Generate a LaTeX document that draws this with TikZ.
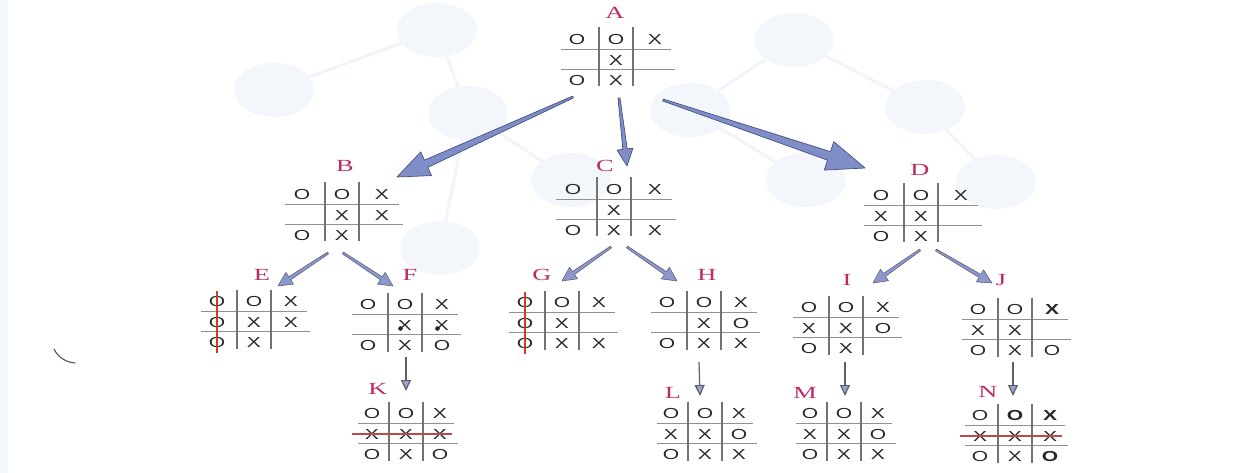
\documentclass[tikz,border=0pt]{standalone}
\usepackage{fontspec}
\usetikzlibrary{calc,arrows.meta}
\newfontfamily\labelfont[FakeStretch=1.55]{Liberation Serif}
\newfontfamily\markfont[FakeStretch=1.45]{Liberation Sans}
\definecolor{lblred}{RGB}{188,42,98}
\definecolor{markgray}{RGB}{40,40,40}
\definecolor{gridv}{RGB}{115,115,105}
\definecolor{gridh}{RGB}{145,145,145}
\definecolor{arrowfill}{RGB}{128,142,200}
\definecolor{arrowedge}{RGB}{70,80,130}
\definecolor{smallfill}{RGB}{140,152,205}
\definecolor{smalledge}{RGB}{95,100,125}
\definecolor{headblue}{RGB}{150,165,215}
\definecolor{strikered}{RGB}{205,60,35}
\definecolor{strikerose}{RGB}{185,75,70}
\definecolor{wmfill}{RGB}{243,247,252}
\definecolor{wmline}{RGB}{241,245,251}

\tikzset{
  lbl/.style={font=\labelfont\fontsize{17}{17}\selectfont, text=lblred,
    inner sep=0pt, text height=11.2pt, text depth=0pt},
  xo/.style={font=\markfont\fontsize{14.5}{14.5}\selectfont, text=markgray,
    inner sep=0pt, text height=10.4pt, text depth=0pt},
  hline/.style={draw=gridh, line width=1.1pt},
  vline/.style={draw=gridv, line width=1.3pt},
  bigarrow/.style={fill=arrowfill, draw=arrowedge, line width=0.7pt, line join=round},
  smallarrow/.style={fill=smallfill, draw=smalledge, line width=0.6pt, line join=round},
  varrow/.style={draw=gray!75!black, line width=1.2pt,
    -{Triangle[length=11pt,width=10pt,fill=headblue]}},
  vstrike/.style={draw=strikered, line width=1.8pt},
  hstrike/.style={draw=strikerose, line width=1.8pt},
  wm/.style={fill=wmfill, draw=none},
  wmlink/.style={draw=wmline, line width=3pt},
}

% tapered arrow: [style]{start}{tip}{half width at start}{half width at head}{head length}{head half width}
\newcommand\tarrow[7][bigarrow]{%
  \path ($(#3)!#6!(#2)$) coordinate (tb);
  \filldraw[#1]
    ($(#2)!#4!90:(#3)$) -- ($(tb)!#5!-90:(#2)$) -- ($(tb)!#7!-90:(#2)$) -- (#3)
    -- ($(tb)!#7!90:(#2)$) -- ($(tb)!#5!90:(#2)$) -- ($(#2)!#4!-90:(#3)$) -- cycle;
}

% board: name, centre x, centre y, column step, nine marks row by row
\newcommand\board[5]{%
  \coordinate (#1) at (#2,#3);
  \foreach \s [count=\i from 0] in {#5} {
    \pgfmathsetmacro\px{#2+(mod(\i,3)-1)*#4}
    \pgfmathsetmacro\py{#3+(div(\i,3)-1)*20.5}
    \node[xo] (#1-\i) at (\px,\py) {\s};
  }
  \draw[hline] (#2-1.42*#4,#3-10.5) -- (#2+1.42*#4,#3-10.5);
  \draw[hline] (#2-1.42*#4,#3+9.5) -- (#2+1.52*#4,#3+9.5);
  \draw[vline] (#2-17,#3-32.5) -- (#2-17,#3+26.5);
  \draw[vline] (#2+17,#3-32.5) -- (#2+17,#3+26.5);
}
\newcommand\bO{{\bfseries O}}
\newcommand\bX{{\bfseries X}}

\begin{document}
\begin{tikzpicture}[x=1pt,y=-1pt]
\useasboundingbox (0,0) rectangle (1245,473);
\fill[white] (0,0) rectangle (1245,473);
\fill[wmfill] (0,0) rectangle (8,473);

% faint network printed behind the tree
\draw[wmlink] (437,30) -- (274,90);
\draw[wmlink] (437,30) -- (468,113);
\draw[wmlink] (794,40) -- (690,110);
\draw[wmlink] (794,40) -- (925,107);
\draw[wmlink] (468,113) -- (571,180);
\draw[wmlink] (925,107) -- (996,182);
\draw[wmlink] (690,110) -- (806,180);
\draw[wmlink] (468,113) -- (440,248);
\foreach \cx/\cy in {437/30,274/90,468/113,690/110,794/40,925/107,571/180,806/180,996/182,440/248}
  \fill[wm] (\cx,\cy) ellipse [x radius=40, y radius=27];

% stray pen stroke
\draw[markgray!80, line width=1.1pt, line cap=round] (54,349) .. controls (58,357) and (65,362) .. (75,363);

% boards
\board{A}{616}{60}{39}{O,O,X,{},X,{},O,X,{}}
\board{B}{342}{215}{40}{O,O,X,{},X,X,O,X,{}}
\board{C}{614}{210}{41}{O,O,X,{},X,{},O,X,X}
\board{D}{921}{216}{40}{O,O,X,X,X,{},O,X,{}}
\board{E}{254}{322}{37}{O,O,X,O,X,X,O,X,{}}
\board{F}{405}{325}{37}{O,O,X,{},X,X,O,X,O}
\board{G}{562}{323}{37}{O,O,X,O,X,{},O,X,X}
\board{H}{704}{323}{37}{O,O,X,{},X,O,O,X,X}
\board{I}{846}{328}{37}{O,O,X,X,X,O,O,X,{}}
\board{J}{1015}{330}{37}{O,O,\bX,X,X,{},O,X,O}
\board{K}{406}{434}{34}{O,O,X,X,X,X,O,X,O}
\board{L}{705}{434}{34}{O,O,X,X,X,O,O,X,X}
\board{M}{844}{434}{34}{O,O,X,X,X,O,O,X,X}
\board{N}{1015}{436}{35}{O,\bO,\bX,X,X,X,O,X,\bO}

% ink blots on F
\fill[markgray] ($(F-4)+(-4.5,3.5)$) circle (2.3);
\fill[markgray] ($(F-5)+(-4.5,3.5)$) circle (2.3);

% winning lines
\draw[vstrike] ($(E-0)+(0,-11)$) -- ($(E-6)+(0,10)$);
\draw[vstrike] ($(G-0)+(0,-11)$) -- ($(G-6)+(0,10)$);
\draw[hstrike] ($(K-3)+(-20,0)$) -- ($(K-5)+(12,0)$);
\draw[hstrike] ($(N-3)+(-20,0)$) -- ($(N-5)+(12,0)$);

% labels
\node[lbl] (lA) at (615,13) {A};
\node[lbl] (lB) at (345,166) {B};
\node[lbl] (lC) at (605,166) {C};
\node[lbl] (lD) at (920,170) {D};
\node[lbl] (lE) at (262,275) {E};
\node[lbl] (lF) at (410,275) {F};
\node[lbl] (lG) at (542,275) {G};
\node[lbl] (lH) at (707,275) {H};
\node[lbl] (lI) at (847,280) {I};
\node[lbl] (lJ) at (1001,280) {J};
\node[lbl] (lK) at (378,389) {K};
\node[lbl] (lL) at (673,393) {L};
\node[lbl] (lM) at (805,393) {M};
\node[lbl] (lN) at (988,392) {N};

% connector ends
\path (A) ++(-43,37) coordinate (AB-s)  (B) ++(55,-38) coordinate (AB-e);
\path (A) ++(3,38)   coordinate (AC-s)  (C) ++(13,-44) coordinate (AC-e);
\path (A) ++(47,40)  coordinate (AD-s)  (D) ++(-56,-48) coordinate (AD-e);
\path (B) ++(-14,38) coordinate (BE-s)  (E) ++(24,-36) coordinate (BE-e);
\path (B) ++(1,38)   coordinate (BF-s)  (F) ++(-12,-39) coordinate (BF-e);
\path (C) ++(-3,37)  coordinate (CG-s)  (G) ++(0,-42) coordinate (CG-e);
\path (C) ++(13,37)  coordinate (CH-s)  (H) ++(-27,-42) coordinate (CH-e);
\path (D) ++(-1,34)  coordinate (DI-s)  (I) ++(27,-45) coordinate (DI-e);
\path (D) ++(15,34)  coordinate (DJ-s)  (J) ++(-23,-47) coordinate (DJ-e);
\path (F) ++(1,32)   coordinate (FK-s)  (K) ++(0,-43) coordinate (FK-e);
\path (H) ++(-5,39)  coordinate (HL-s)  (L) ++(-5,-38) coordinate (HL-e);
\path (I) ++(-1,34)  coordinate (IM-s)  (M) ++(1,-38) coordinate (IM-e);
\path (J) ++(-2,32)  coordinate (JN-s)  (N) ++(-2,-40) coordinate (JN-e);

% connectors
\tarrow{AB-s}{AB-e}{1pt}{4pt}{32pt}{13pt}
\tarrow{AC-s}{AC-e}{1pt}{2.2pt}{17pt}{8pt}
\tarrow{AD-s}{AD-e}{1pt}{4.5pt}{38pt}{15pt}
\tarrow[smallarrow]{BE-s}{BE-e}{1pt}{1.8pt}{14pt}{7pt}
\tarrow[smallarrow]{BF-s}{BF-e}{1pt}{1.8pt}{14pt}{7pt}
\tarrow[smallarrow]{CG-s}{CG-e}{1pt}{1.8pt}{14pt}{7pt}
\tarrow[smallarrow]{CH-s}{CH-e}{1pt}{1.8pt}{14pt}{7pt}
\tarrow[smallarrow]{DI-s}{DI-e}{1pt}{1.8pt}{14pt}{7pt}
\tarrow[smallarrow]{DJ-s}{DJ-e}{1pt}{1.8pt}{14pt}{7pt}
\draw[varrow] (FK-s) -- (FK-e);
\draw[varrow] (HL-s) -- (HL-e);
\draw[varrow] (IM-s) -- (IM-e);
\draw[varrow] (JN-s) -- (JN-e);
\end{tikzpicture}
\end{document}
